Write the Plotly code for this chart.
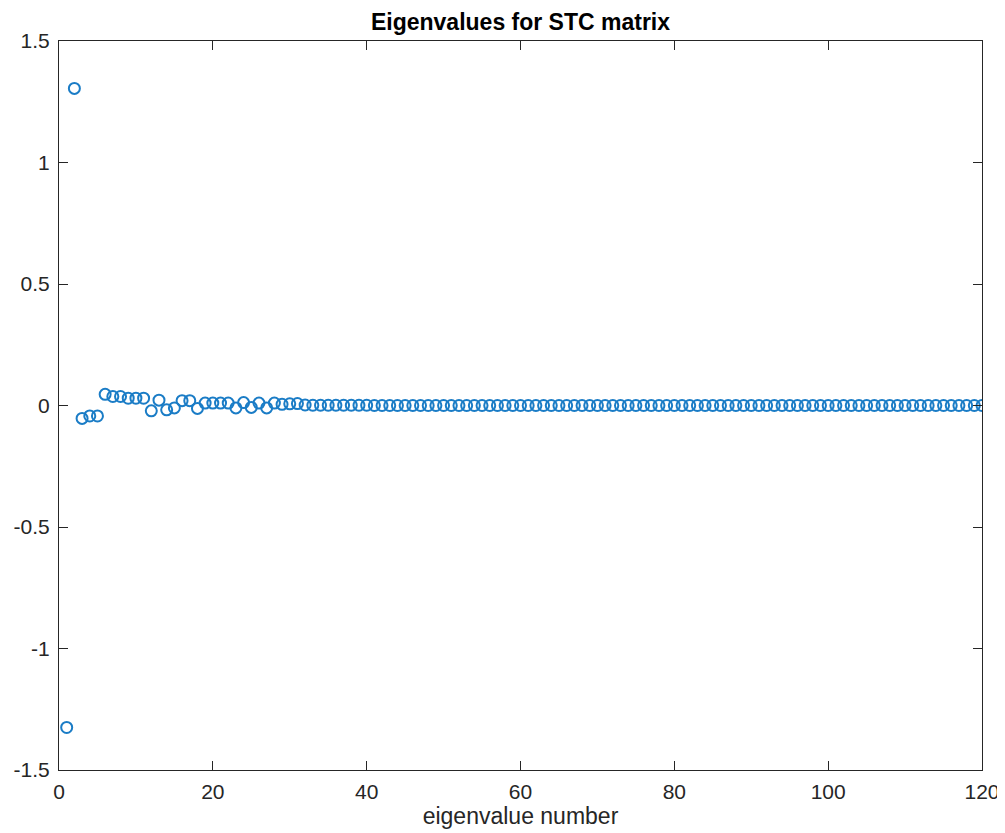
import plotly.graph_objects as go

# eigenvalue index 1..120
eig_number = list(range(1, 121))

eig_head = [-1.325, 1.305, -0.053, -0.043, -0.043, 0.046, 0.037, 0.037, 0.030, 0.030,
            0.030, -0.022, 0.022, -0.018, -0.010, 0.020, 0.020, -0.012, 0.010, 0.010,
            0.010, 0.010, -0.010, 0.012, -0.008, 0.010, -0.010, 0.010, 0.005, 0.007,
            0.008]
eig_tail = [0.002, 0.001, 0.001, 0.001, 0.001, 0.001, 0.001, 0.001, 0.001, 0.000,
            0.000, 0.000, 0.000, 0.000, 0.000, 0.000, 0.000, 0.000, 0.000, 0.000,
            0.000, 0.000, 0.000, 0.000, 0.000, 0.000, 0.000, 0.000, 0.000, 0.000,
            0.000, 0.000, 0.000, 0.000, 0.000, 0.000, 0.000, 0.000, 0.000, 0.000,
            0.000, 0.000, 0.000, 0.000, 0.000, 0.000, 0.000, 0.000, 0.000, 0.000,
            0.000, 0.000, 0.000, 0.000, 0.000, 0.000, 0.000, 0.000, 0.000, 0.000,
            0.000, 0.000, 0.000, 0.000, 0.000, 0.000, 0.000, 0.000, 0.000, 0.000,
            0.000, 0.000, 0.000, 0.000, 0.000, 0.000, 0.000, 0.000, 0.000, 0.000,
            0.000, 0.000, 0.000, 0.000, 0.000, 0.000, 0.000, 0.000, 0.000]
eig_values = eig_head + eig_tail

x_ticks = [0, 20, 40, 60, 80, 100, 120]
y_ticks = [-1.5, -1, -0.5, 0, 0.5, 1, 1.5]
y_tick_labels = ["-1.5", "-1", "-0.5", "0", "0.5", "1", "1.5"]

FONT = "Liberation Sans, Arial, Helvetica, sans-serif"
AX = "#262626"

fig = go.Figure(go.Scatter(
    x=eig_number, y=eig_values, mode="markers",
    marker=dict(symbol="circle-open", size=11, color="#1a7cc6",
                line=dict(width=2, color="#1a7cc6")),
    hoverinfo="x+y", showlegend=False,
))

axis_common = dict(showline=True, linecolor=AX, linewidth=1, mirror="ticks",
                   ticks="inside", ticklen=9, tickcolor=AX, tickwidth=1,
                   showgrid=False, zeroline=False, automargin=False,
                   tickfont=dict(family=FONT, size=21, color=AX))

fig.update_xaxes(range=[0, 120], tickvals=x_ticks, ticklabelstandoff=3, **axis_common,
                 title=dict(text="eigenvalue number", standoff=4,
                            font=dict(family=FONT, size=23, color=AX)))
fig.update_yaxes(range=[-1.5, 1.5], tickvals=y_ticks, ticktext=y_tick_labels,
                 ticklabelstandoff=4, **axis_common)

fig.update_layout(
    width=997, height=825,
    margin=dict(l=51, r=23, t=33, b=63),
    paper_bgcolor="white", plot_bgcolor="white",
    title=dict(text="<b>Eigenvalues for STC matrix</b>", xref="paper", x=0.5,
               xanchor="center", yref="container", y=0.983, yanchor="middle",
               font=dict(family=FONT, size=23, color="black")),
)

fig.write_html("out.html")
